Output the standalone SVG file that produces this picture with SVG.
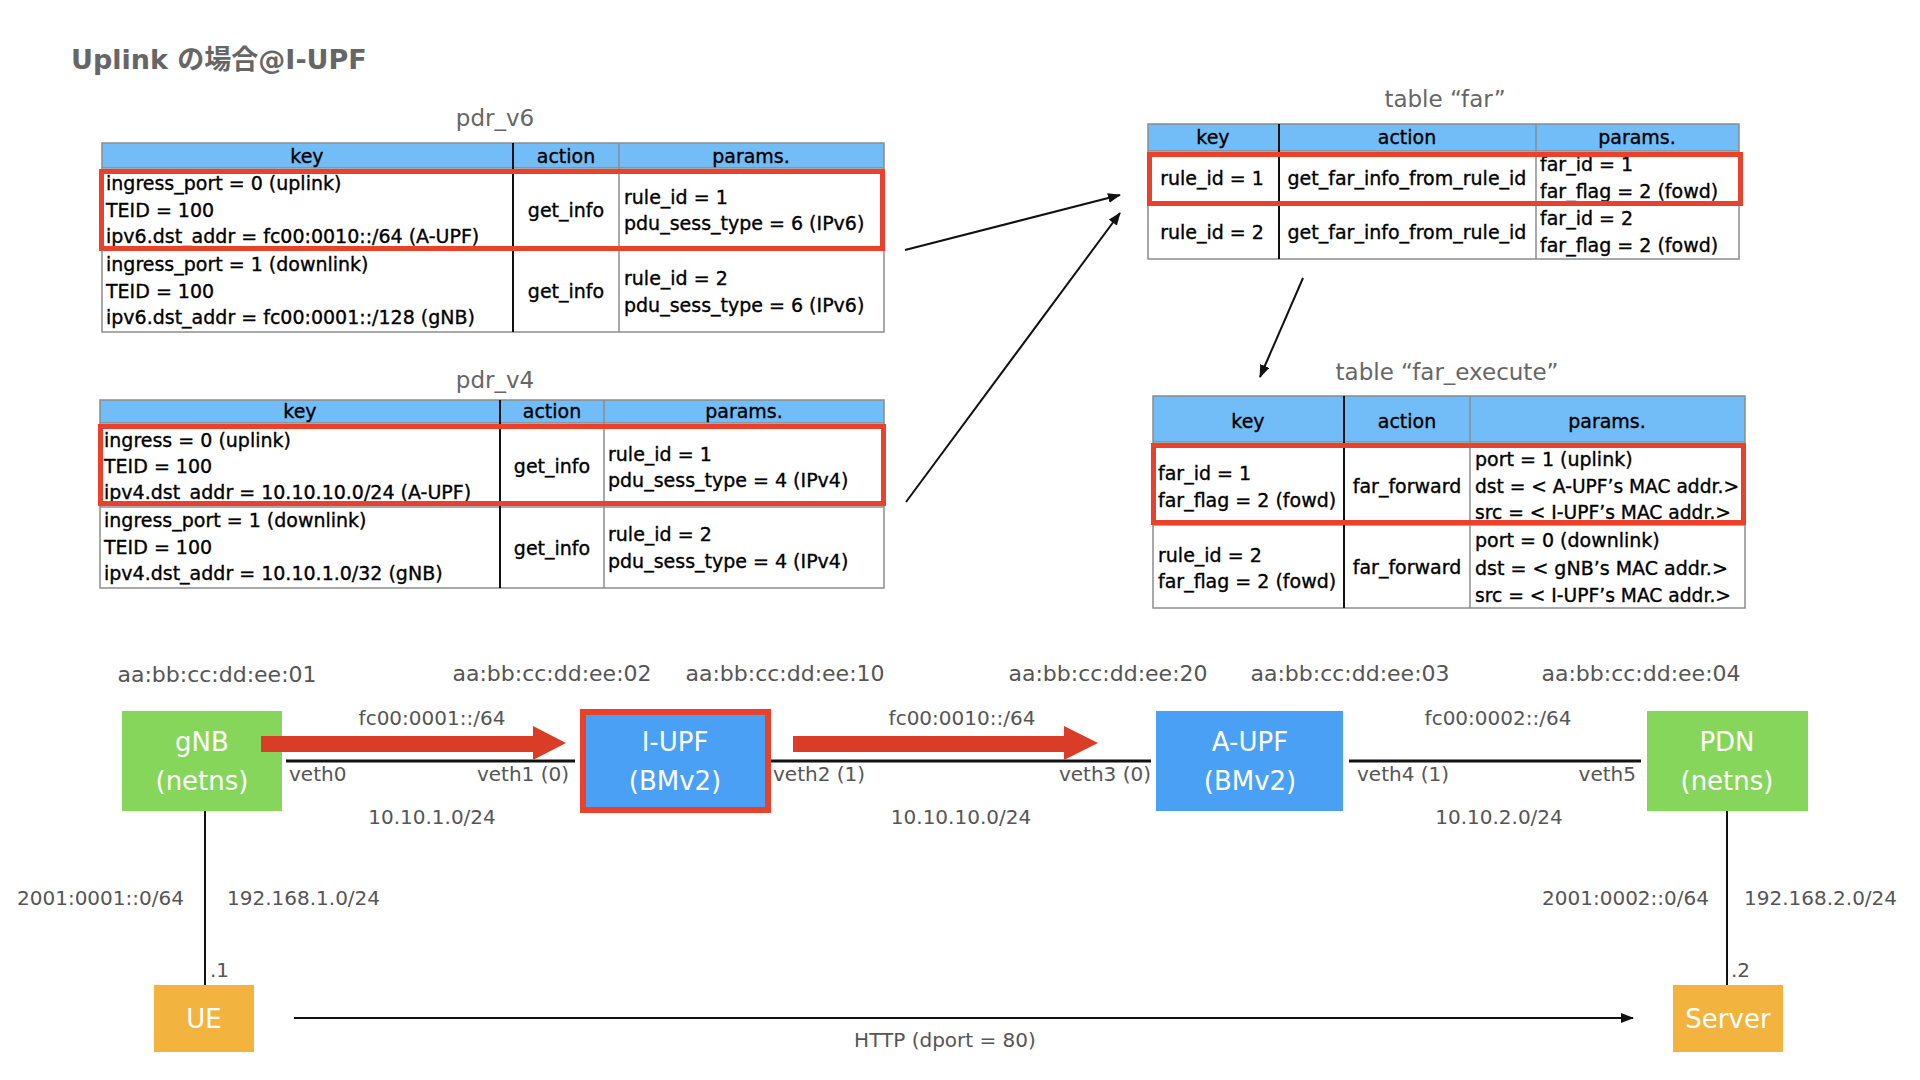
<svg xmlns="http://www.w3.org/2000/svg" width="1920" height="1080" viewBox="0 0 1920 1080">
  <style>
    text { font-family: "DejaVu Sans", "Noto Sans CJK JP", sans-serif; }
    .title { font-size: 27px; font-weight: bold; fill: #666; }
    .tname { font-size: 23px; fill: #666; text-anchor: middle; }
    .hdr { font-size: 19px; fill: #000; stroke: #000; stroke-width: 0.35; text-anchor: middle; }
    .cell { font-size: 19px; fill: #000; stroke: #000; stroke-width: 0.35; }
    .mid { text-anchor: middle; }
    .end { text-anchor: end; }
    .head { fill: #72bdf7; }
    .grid { stroke: #8c8c8c; stroke-width: 1.5; fill: none; }
    .sep { stroke: #111; stroke-width: 2; }
    .hit { fill: none; stroke: #e8412c; stroke-width: 5; }
    .lbl { font-size: 20px; fill: #555; }
    .mac { font-size: 22px; fill: #555; text-anchor: middle; }
    .ntext { font-size: 26px; fill: #fff; text-anchor: middle; }
    .green { fill: #85d65a; }
    .blue { fill: #4aa0f5; }
    .orange { fill: #f2b33f; }
    .link { stroke: #111; stroke-width: 3; fill: none; }
    .thin { stroke: #111; stroke-width: 2; fill: none; }
    .flow { fill: #d93d28; }
  </style>
  <defs>
    <marker id="arrow" markerUnits="userSpaceOnUse" markerWidth="13" markerHeight="10" refX="12" refY="5" orient="auto">
      <path d="M0,0 L13,5 L0,10 z" fill="#111"/>
    </marker>
  </defs>

  <rect width="1920" height="1080" fill="#fff"/>

  <text class="title" x="71" y="69">Uplink の場合@I-UPF</text>

  <!-- table pdr_v6 -->
  <g id="pdr_v6">
    <text class="tname" x="495" y="126">pdr_v6</text>
    <rect class="head" x="102" y="143" width="782" height="25"/>
    <rect class="grid" x="102" y="143" width="782" height="189"/>
    <line class="grid" x1="102" y1="168" x2="884" y2="168"/>
    <line class="grid" x1="102" y1="250" x2="884" y2="250"/>
    <line class="sep" x1="513" y1="143" x2="513" y2="332"/>
    <line class="grid" x1="619" y1="143" x2="619" y2="332"/>
    <text class="hdr" x="307" y="163">key</text>
    <text class="hdr" x="566" y="163">action</text>
    <text class="hdr" x="751" y="163">params.</text>
    <text class="cell" x="106" y="190">ingress_port = 0 (uplink)</text>
    <text class="cell" x="106" y="217">TEID = 100</text>
    <text class="cell" x="106" y="243">ipv6.dst_addr = fc00:0010::/64 (A-UPF)</text>
    <text class="cell mid" x="566" y="217">get_info</text>
    <text class="cell" x="624" y="204">rule_id = 1</text>
    <text class="cell" x="624" y="230">pdu_sess_type = 6 (IPv6)</text>
    <text class="cell" x="106" y="271">ingress_port = 1 (downlink)</text>
    <text class="cell" x="106" y="298">TEID = 100</text>
    <text class="cell" x="106" y="324">ipv6.dst_addr = fc00:0001::/128 (gNB)</text>
    <text class="cell mid" x="566" y="298">get_info</text>
    <text class="cell" x="624" y="285">rule_id = 2</text>
    <text class="cell" x="624" y="312">pdu_sess_type = 6 (IPv6)</text>
    <rect class="hit" x="101.5" y="171.5" width="781" height="77"/>
  </g>

  <!-- table pdr_v4 -->
  <g id="pdr_v4">
    <text class="tname" x="495" y="388">pdr_v4</text>
    <rect class="head" x="100" y="400" width="784" height="23"/>
    <rect class="grid" x="100" y="400" width="784" height="188"/>
    <line class="grid" x1="100" y1="423" x2="884" y2="423"/>
    <line class="grid" x1="100" y1="507" x2="884" y2="507"/>
    <line class="sep" x1="500" y1="400" x2="500" y2="588"/>
    <line class="grid" x1="604" y1="400" x2="604" y2="588"/>
    <text class="hdr" x="300" y="418">key</text>
    <text class="hdr" x="552" y="418">action</text>
    <text class="hdr" x="744" y="418">params.</text>
    <text class="cell" x="104" y="447">ingress = 0 (uplink)</text>
    <text class="cell" x="104" y="473">TEID = 100</text>
    <text class="cell" x="104" y="499">ipv4.dst_addr = 10.10.10.0/24 (A-UPF)</text>
    <text class="cell mid" x="552" y="473">get_info</text>
    <text class="cell" x="608" y="461">rule_id = 1</text>
    <text class="cell" x="608" y="487">pdu_sess_type = 4 (IPv4)</text>
    <text class="cell" x="104" y="527">ingress_port = 1 (downlink)</text>
    <text class="cell" x="104" y="554">TEID = 100</text>
    <text class="cell" x="104" y="580">ipv4.dst_addr = 10.10.1.0/32 (gNB)</text>
    <text class="cell mid" x="552" y="555">get_info</text>
    <text class="cell" x="608" y="541">rule_id = 2</text>
    <text class="cell" x="608" y="568">pdu_sess_type = 4 (IPv4)</text>
    <rect class="hit" x="100.5" y="426.5" width="783" height="77"/>
  </g>

  <!-- table far -->
  <g id="far">
    <text class="tname" x="1445" y="107">table “far”</text>
    <rect class="head" x="1148" y="124" width="591" height="27"/>
    <rect class="grid" x="1148" y="124" width="591" height="135"/>
    <line class="grid" x1="1148" y1="151" x2="1739" y2="151"/>
    <line class="grid" x1="1148" y1="205" x2="1739" y2="205"/>
    <line class="sep" x1="1279" y1="124" x2="1279" y2="259"/>
    <line class="grid" x1="1536" y1="124" x2="1536" y2="259"/>
    <text class="hdr" x="1213" y="144">key</text>
    <text class="hdr" x="1407" y="144">action</text>
    <text class="hdr" x="1637" y="144">params.</text>
    <text class="cell mid" x="1212" y="185">rule_id = 1</text>
    <text class="cell mid" x="1407" y="185">get_far_info_from_rule_id</text>
    <text class="cell" x="1540" y="171">far_id = 1</text>
    <text class="cell" x="1540" y="198">far_flag = 2 (fowd)</text>
    <text class="cell mid" x="1212" y="239">rule_id = 2</text>
    <text class="cell mid" x="1407" y="239">get_far_info_from_rule_id</text>
    <text class="cell" x="1540" y="225">far_id = 2</text>
    <text class="cell" x="1540" y="252">far_flag = 2 (fowd)</text>
    <rect class="hit" x="1149.5" y="154.5" width="591" height="49"/>
  </g>

  <!-- table far_execute -->
  <g id="far_execute">
    <text class="tname" x="1447" y="380">table “far_execute”</text>
    <rect class="head" x="1153" y="396" width="592" height="46"/>
    <rect class="grid" x="1153" y="396" width="592" height="212"/>
    <line class="grid" x1="1153" y1="442" x2="1745" y2="442"/>
    <line class="grid" x1="1153" y1="525" x2="1745" y2="525"/>
    <line class="sep" x1="1344" y1="396" x2="1344" y2="608"/>
    <line class="grid" x1="1470" y1="396" x2="1470" y2="608"/>
    <text class="hdr" x="1248" y="428">key</text>
    <text class="hdr" x="1407" y="428">action</text>
    <text class="hdr" x="1607" y="428">params.</text>
    <text class="cell" x="1158" y="480">far_id = 1</text>
    <text class="cell" x="1158" y="507">far_flag = 2 (fowd)</text>
    <text class="cell mid" x="1407" y="493">far_forward</text>
    <text class="cell" x="1475" y="466">port = 1 (uplink)</text>
    <text class="cell" x="1475" y="493" textLength="264" lengthAdjust="spacingAndGlyphs">dst = &lt; A-UPF’s MAC addr.&gt;</text>
    <text class="cell" x="1475" y="519" textLength="256" lengthAdjust="spacingAndGlyphs">src = &lt; I-UPF’s MAC addr.&gt;</text>
    <text class="cell" x="1158" y="562">rule_id = 2</text>
    <text class="cell" x="1158" y="588">far_flag = 2 (fowd)</text>
    <text class="cell mid" x="1407" y="574">far_forward</text>
    <text class="cell" x="1475" y="547">port = 0 (downlink)</text>
    <text class="cell" x="1475" y="575">dst = &lt; gNB’s MAC addr.&gt;</text>
    <text class="cell" x="1475" y="602" textLength="256" lengthAdjust="spacingAndGlyphs">src = &lt; I-UPF’s MAC addr.&gt;</text>
    <rect class="hit" x="1153.5" y="445.5" width="590" height="77"/>
  </g>

  <!-- network nodes -->
  <g id="gNB">
    <rect class="green" x="122" y="711" width="160" height="100"/>
    <text class="ntext" x="202" y="751">gNB</text>
    <text class="ntext" x="202" y="790">(netns)</text>
  </g>
  <g id="I-UPF">
    <rect class="blue" x="583" y="712" width="185" height="98" stroke="#e8412c" stroke-width="6"/>
    <text class="ntext" x="675" y="751">I-UPF</text>
    <text class="ntext" x="675" y="790">(BMv2)</text>
  </g>
  <g id="A-UPF">
    <rect class="blue" x="1156" y="711" width="187" height="100"/>
    <text class="ntext" x="1250" y="751">A-UPF</text>
    <text class="ntext" x="1250" y="790">(BMv2)</text>
  </g>
  <g id="PDN">
    <rect class="green" x="1647" y="711" width="161" height="100"/>
    <text class="ntext" x="1727" y="751">PDN</text>
    <text class="ntext" x="1727" y="790">(netns)</text>
  </g>
  <g id="UE">
    <rect class="orange" x="154" y="985" width="100" height="67"/>
    <text class="ntext" x="204" y="1028">UE</text>
  </g>
  <g id="Server">
    <rect class="orange" x="1673" y="985" width="110" height="67"/>
    <text class="ntext" x="1728" y="1028">Server</text>
  </g>

  <!-- connectors -->
  <g id="connectors">
    <line class="thin" x1="905" y1="250" x2="1120" y2="195" marker-end="url(#arrow)"/>
    <line class="thin" x1="906" y1="502" x2="1120" y2="213" marker-end="url(#arrow)"/>
    <line class="thin" x1="1303" y1="278" x2="1260" y2="377" marker-end="url(#arrow)"/>

    <line class="link" x1="286" y1="761" x2="575" y2="761"/>
    <line class="link" x1="771" y1="761" x2="1151" y2="761"/>
    <line class="link" x1="1349" y1="761" x2="1641" y2="761"/>

    <line class="thin" x1="205" y1="811" x2="205" y2="985"/>
    <line class="thin" x1="1727" y1="811" x2="1727" y2="985"/>

    <line class="thin" x1="294" y1="1018" x2="1633" y2="1018" stroke-width="2.5" marker-end="url(#arrow)"/>

    <polygon class="flow" points="261,736 533,736 533,726 566,743 533,760 533,752 261,752"/>
    <polygon class="flow" points="793,736 1064,736 1064,726 1098,743 1064,760 1064,752 793,752"/>
  </g>

  <!-- addresses and interface names -->
  <g id="labels">
    <text class="mac" x="217" y="682">aa:bb:cc:dd:ee:01</text>
    <text class="mac" x="552" y="681">aa:bb:cc:dd:ee:02</text>
    <text class="mac" x="785" y="681">aa:bb:cc:dd:ee:10</text>
    <text class="mac" x="1108" y="681">aa:bb:cc:dd:ee:20</text>
    <text class="mac" x="1350" y="681">aa:bb:cc:dd:ee:03</text>
    <text class="mac" x="1641" y="681">aa:bb:cc:dd:ee:04</text>

    <text class="lbl mid" x="432" y="725">fc00:0001::/64</text>
    <text class="lbl mid" x="962" y="725">fc00:0010::/64</text>
    <text class="lbl mid" x="1498" y="725">fc00:0002::/64</text>

    <text class="lbl" x="289" y="781">veth0</text>
    <text class="lbl end" x="569" y="781">veth1 (0)</text>
    <text class="lbl" x="773" y="781">veth2 (1)</text>
    <text class="lbl end" x="1151" y="781">veth3 (0)</text>
    <text class="lbl" x="1357" y="781">veth4 (1)</text>
    <text class="lbl end" x="1636" y="781">veth5</text>

    <text class="lbl mid" x="432" y="824">10.10.1.0/24</text>
    <text class="lbl mid" x="961" y="824">10.10.10.0/24</text>
    <text class="lbl mid" x="1499" y="824">10.10.2.0/24</text>

    <text class="lbl" x="17" y="905">2001:0001::0/64</text>
    <text class="lbl" x="227" y="905">192.168.1.0/24</text>
    <text class="lbl end" x="1709" y="905">2001:0002::0/64</text>
    <text class="lbl" x="1744" y="905">192.168.2.0/24</text>

    <text class="lbl" x="210" y="977">.1</text>
    <text class="lbl" x="1731" y="977">.2</text>

    <text class="lbl mid" x="945" y="1047">HTTP (dport = 80)</text>
  </g>
</svg>
